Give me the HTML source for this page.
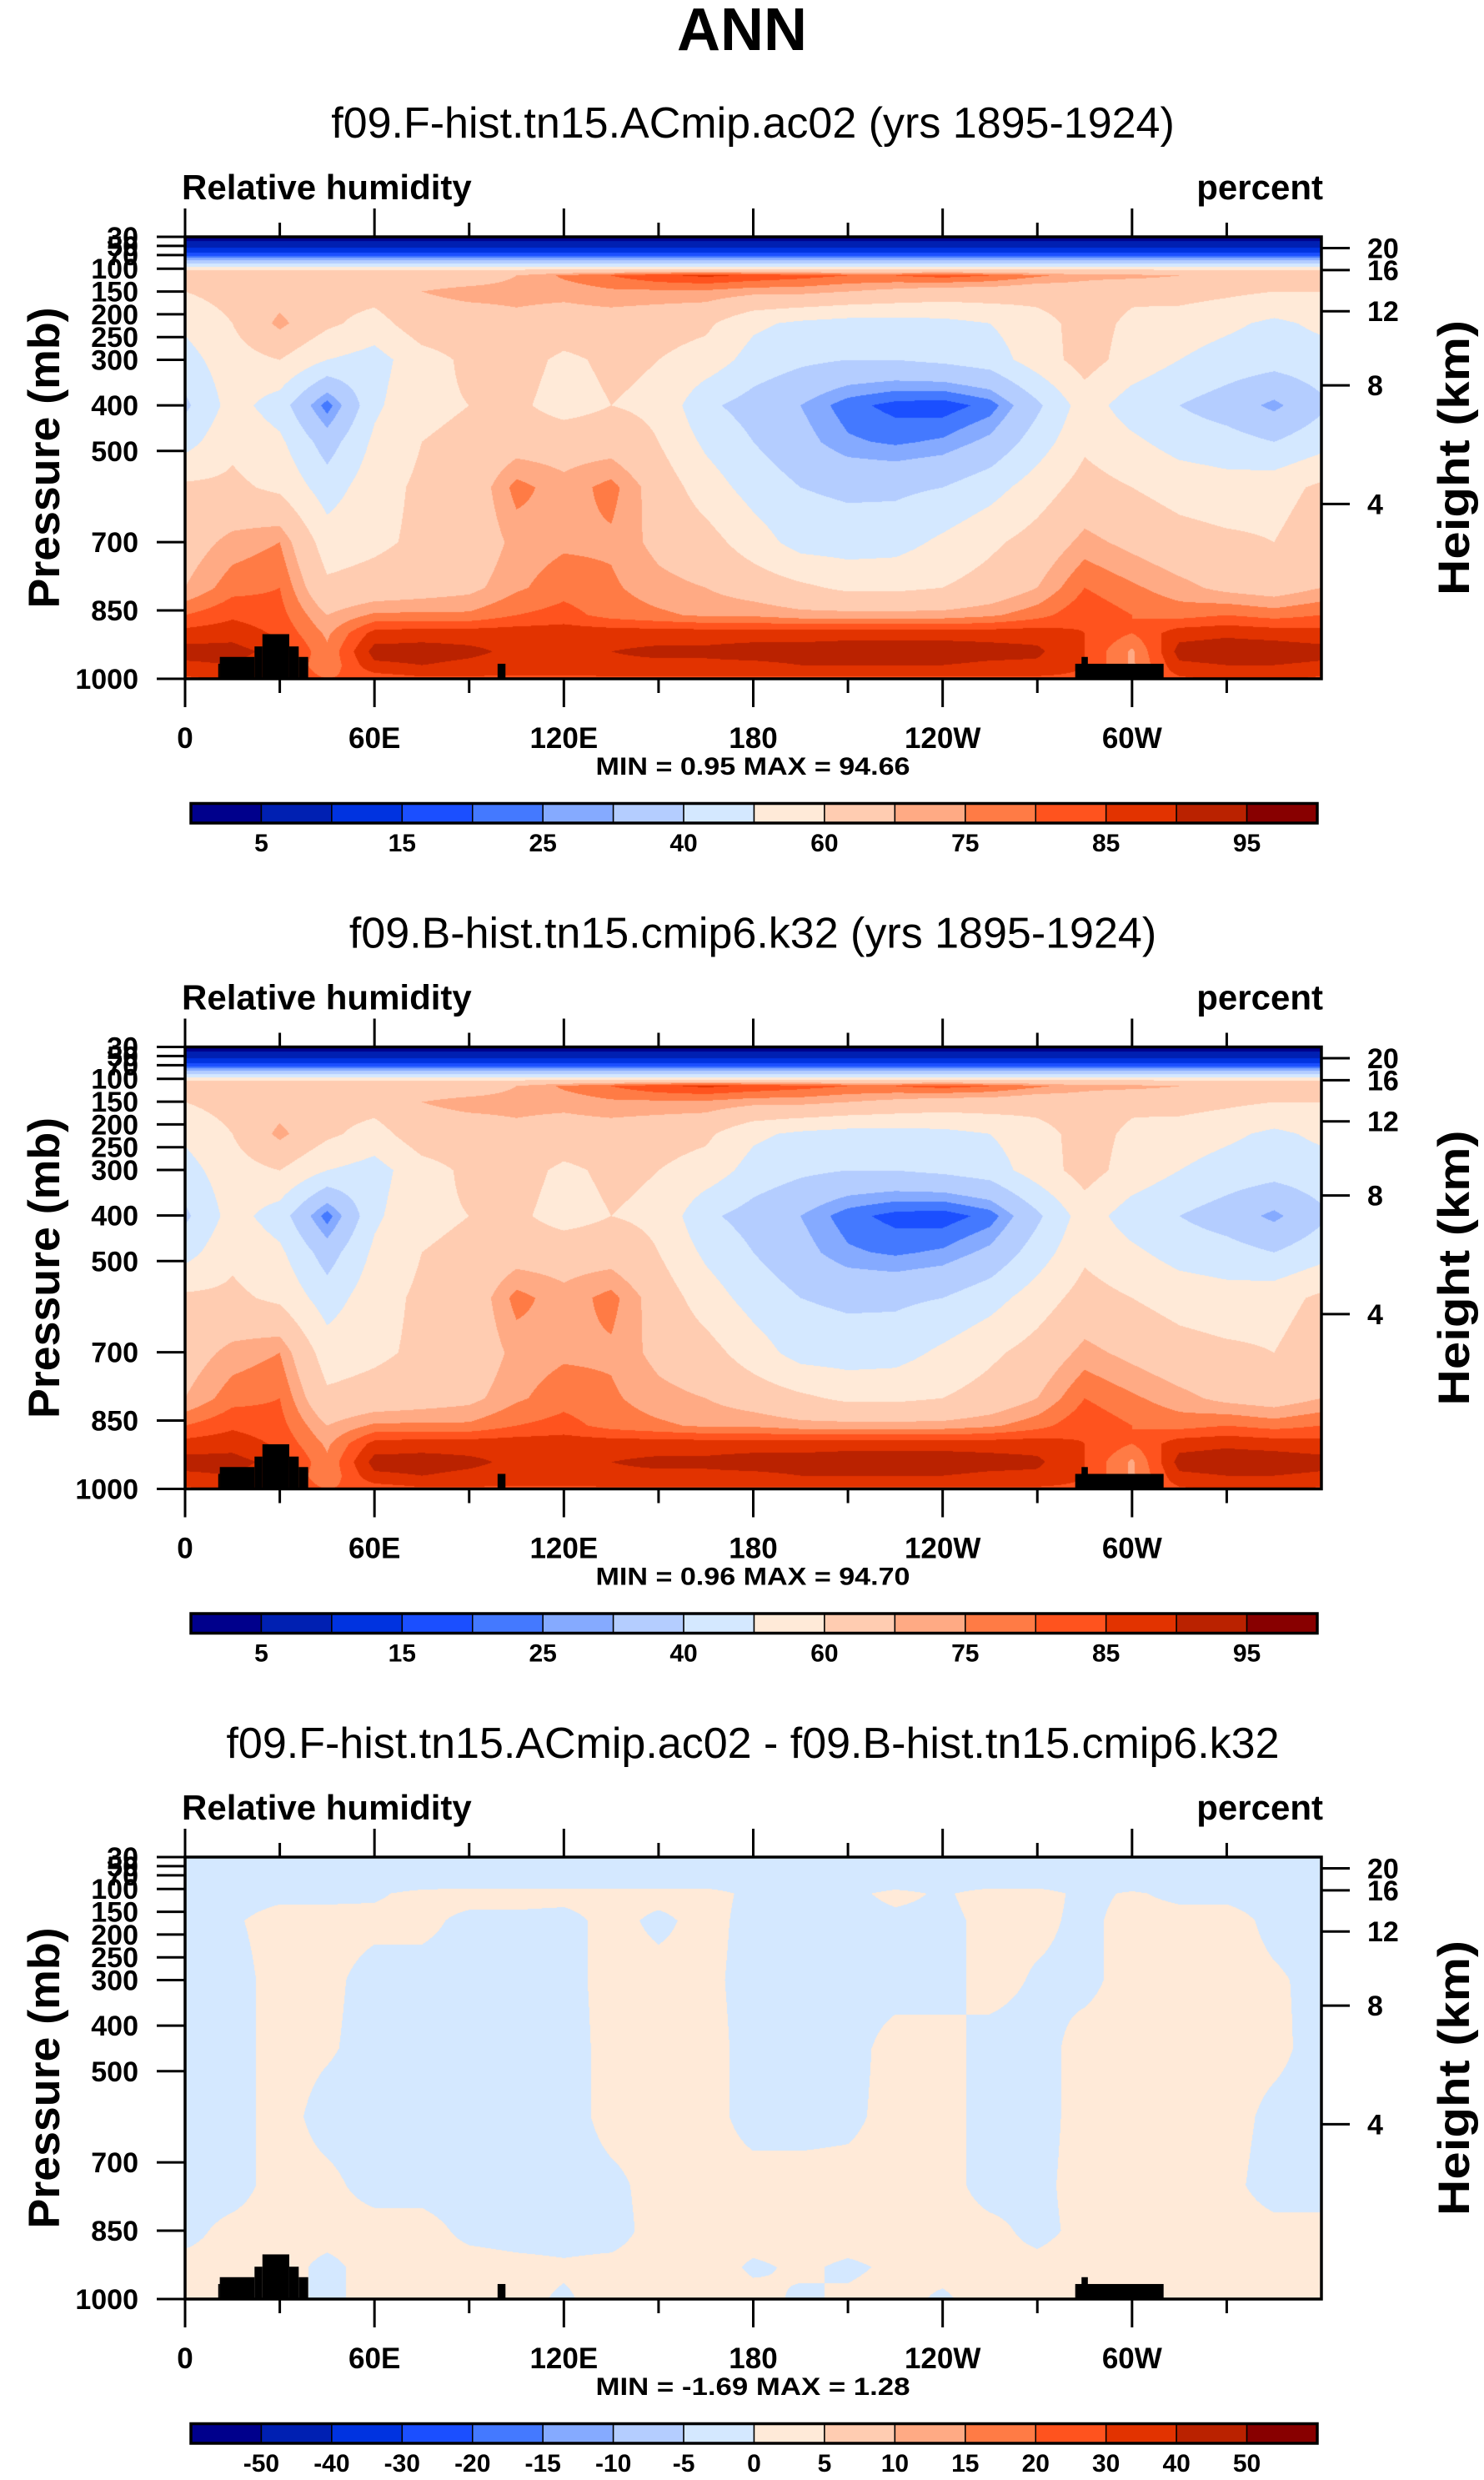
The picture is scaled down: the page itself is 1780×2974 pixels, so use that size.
<!DOCTYPE html>
<html><head><meta charset="utf-8">
<style>
html,body{margin:0;padding:0;background:#fff;}
#wrap{position:relative;width:1780px;height:2974px;overflow:hidden;}
canvas{position:absolute;}
svg{position:absolute;left:0;top:0;}
text{font-family:"Liberation Sans",sans-serif;}
</style></head>
<body>
<div id="wrap">
<canvas id="c0"></canvas>
<canvas id="c1"></canvas>
<canvas id="c2"></canvas>
<svg id="svg" width="1780" height="2974" xmlns="http://www.w3.org/2000/svg">
<text x="890" y="60" text-anchor="middle" font-size="72" font-weight="bold">ANN</text>
</svg>
</div>
<script>
// ---------- data ----------
const lonGrid = [0,15,30,45,60,75,90,105,120,135,150,165,180,195,210,225,240,255,270,285,300,315,330,345,360];
const rhLevels = [30,50,70,90,100,115,150,220,300,400,480,580,700,800,860,900,940,970,1000];
const rhA = [
[2,2,2,2,2,2,2,2,2,2,2,2,2,2,2,2,2,2,2,2,2,2,2,2,2],
[8,8,8,8,8,8,8,8,8,8,8,8,8,8,8,8,8,8,8,8,8,8,8,8,8],
[17,17,17,17,17,17,17,17,17,17,17,17,17,17,17,17,17,17,17,17,17,17,17,17,17],
[42,42,42,42,42,42,42,42,42,42,42,42,42,42,42,42,42,42,42,42,42,42,42,42,42],
[58,58,58,58,58,58,58,58,58,58,58,58,58,58,58,58,58,58,58,58,58,58,58,58,58],
[66,70,68,66,66,66,66,70,76,80,84,86,84,82,80,80,82,80,76,72,72,70,70,68,66],
[60,64,66,64,64,70,72,72,72,74,74,74,72,72,70,68,66,66,64,66,62,64,62,60,60],
[52,60,72,62,56,66,66,68,66,66,64,62,52,48,46,46,47,50,56,64,58,55,52,48,52],
[46,56,60,50,46,56,62,64,58,62,60,56,46,42,40,40,42,45,55,64,56,50,46,44,46],
[38,54,45,22,48,58,60,62,56,60,58,42,36,30,22,18,17,22,38,55,45,40,35,28,38],
[46,58,52,35,52,60,62,66,66,66,60,48,40,33,26,24,26,32,45,58,52,46,44,40,46],
[62,62,58,45,56,62,64,77,72,77,66,55,46,40,38,38,40,46,55,64,60,56,54,56,62],
[66,72,75,55,58,62,64,72,74,74,68,64,55,46,45,46,52,58,64,72,68,64,62,60,66],
[70,78,80,62,64,66,68,74,78,76,72,70,66,62,58,58,60,64,70,80,76,72,68,66,70],
[80,84,82,70,76,76,76,80,82,78,76,74,74,72,72,72,72,74,78,84,80,78,80,78,80],
[87,88,84,74,87,88,88,88,88,88,88,88,88,88,88,88,88,88,88,85,80,88,89,88,87],
[92,92,88,76,92,92,91,89,89,90,91,91,92,92,93,93,93,92,91,85,74,92,93,93,92],
[89,90,86,76,89,90,89,88,88,89,89,89,89,90,90,90,90,89,89,85,74,89,90,90,89],
[84,86,84,80,82,84,84,84,84,84,84,84,84,84,84,84,84,84,84,84,80,84,86,86,84]
];
const rhB = [
[2,2,2,2,2,2,2,2,2,2,2,2,2,2,2,2,2,2,2,2,2,2,2,2,2],
[8,8,8,8,8,8,8,8,8,8,8,8,8,8,8,8,8,8,8,8,8,8,8,8,8],
[17,17,17,17,17,17,17,17,17,17,17,17,17,17,17,17,17,17,17,17,17,17,17,17,17],
[42,42,42,42,42,42,42,42,42,42,42,42,42,42,42,42,42,42,42,42,42,42,42,42,42],
[58,58,58,58,58,58,58,58,58,58,58,58,58,58,58,58,58,58,58,58,58,58,58,58,58],
[66,70,68,66,66,66,66,70,76,80,84,86,84,82,80,80,82,80,76,72,72,70,70,68,66],
[60,64,66,64,64,70,72,72,72,74,74,74,72,72,70,68,66,66,64,66,62,64,62,60,60],
[52,60,72,62,56,66,66,68,66,66,64,62,52,48,46,46,47,50,56,64,58,55,52,48,52],
[46,56,60,50,46,56,62,64,58,62,60,56,46,42,40,40,42,45,55,64,56,50,46,44,46],
[38,54,45,22,48,58,60,62,56,60,58,42,36,30,22,18,17,22,38,55,45,40,35,28,38],
[46,58,52,35,52,60,62,66,66,66,60,48,40,33,26,24,26,32,45,58,52,46,44,40,46],
[62,62,58,45,56,62,64,77,72,77,66,55,46,40,38,38,40,46,55,64,60,56,54,56,62],
[66,72,75,55,58,62,64,72,74,74,68,64,55,46,45,46,52,58,64,72,68,64,62,60,66],
[70,78,80,62,64,66,68,74,78,76,72,70,66,62,58,58,60,64,70,80,76,72,68,66,70],
[80,84,82,70,76,76,76,80,82,78,76,74,74,72,72,72,72,74,78,84,80,78,80,78,80],
[87,88,84,74,87,88,88,88,88,88,88,88,88,88,88,88,88,88,88,85,80,88,89,88,87],
[92,92,88,76,92,92,91,89,89,90,91,91,92,92,93,93,93,92,91,85,74,92,93,93,92],
[89,90,86,76,89,90,89,88,88,89,89,89,89,90,90,90,90,89,89,85,74,89,90,90,89],
[84,86,84,80,82,84,84,84,84,84,84,84,84,84,84,84,84,84,84,84,80,84,86,86,84]
];
const diffLevels = [30,80,110,170,300,450,600,750,850,930,1000];
const diffVals = [
[-1,-1,-1,-1,-1,-1,-1,-1,-1,-1,-1,-1,-1,-1,-1,-1,-1,-1,-1,-1,-1,-1,-1,-1,-1],
[-.5,-.5,-.5,-.5,-.5,-.5,-.5,-.5,-.5,-.5,-.5,-.5,-.5,-.5,-.5,-.5,-.5,-.5,-.5,-.5,-.5,-.5,-.5,-.5,-.5],
[-.3,-.3,-.2,-.2,-.1,.2,.3,.3,.3,.3,.3,.3,-.2,-.2,-.2,.2,-.1,.3,.3,-.2,.1,-.2,-.2,-.3,-.3],
[-.3,-.1,.3,.3,.2,.2,-.2,-.2,-.3,.3,-.2,.3,-.3,-.3,-.3,-.2,-.2,.2,.2,-.2,.3,.3,.3,-.2,-.3],
[-.3,-.3,.3,.2,-.3,-.3,-.3,-.3,-.3,.3,.3,.2,-.3,-.3,-.3,-.3,-.3,.3,-.1,-.2,.3,.3,.3,.1,-.2],
[-.3,-.3,.3,.1,-.3,-.4,-.4,-.4,-.4,.3,.3,.3,-.3,-.3,-.3,.3,.3,-.3,-.3,.3,.3,.3,.3,.2,-.3],
[-.3,-.3,.3,-.3,-.4,-.4,-.4,-.4,-.4,.3,.3,.3,-.3,-.3,-.2,.3,.3,-.3,-.3,.3,.3,.3,.3,-.2,-.3],
[-.3,-.3,.3,.2,-.3,-.3,-.4,-.4,-.4,-.2,.3,.3,.3,.3,.3,.3,.3,-.3,-.2,.3,.3,.3,.2,-.3,-.3],
[-.2,.2,.3,.3,.3,.3,-.2,-.3,-.3,-.3,.3,.3,.3,.3,.3,.3,.3,.2,-.2,.2,.3,.3,.3,.2,.2],
[.2,.2,.3,-.2,.3,.3,.3,.2,.1,.2,.3,.3,-.1,.1,-.1,.1,.2,.2,.2,.3,.3,.3,.3,.3,.3],
[.3,.3,.3,-.2,.3,.3,.2,.2,-.1,.3,.3,.3,.2,-.1,.1,.2,-.1,.3,.2,.3,.3,.3,.3,.3,.3]
];
const rhBounds = [5,10,15,20,25,30,40,50,60,70,75,80,85,90,95];
const rhLabels = ["5","15","25","40","60","75","85","95"];
const diffBounds = [-50,-40,-30,-20,-15,-10,-5,0,5,10,15,20,30,40,50];
const diffLabels = ["-50","-40","-30","-20","-15","-10","-5","0","5","10","15","20","30","40","50"];
const palette = ["#00008C","#0020B2","#0033E0","#1B4FFF","#4479FF","#85AAFF","#B4CDFF","#D4E8FF","#FFEAD8","#FFCCB1","#FFAA84","#FF7B45","#FF531E","#E23300","#BA2200","#880000"];
const topoLon0 = [10.5,11,22,24.5,33,36,99,282,284];
const topoLon1 = [11,22,24.5,33,36,39,101.5,310,286];
const topoP = [967,952,929,902,929,952,967,967,952];
const pressTicks = [30,50,70,100,150,200,250,300,400,500,700,850,1000];
const heightTicks = [20,16,12,8,4];
const lonMajor = [0,60,120,180,240,300];
const lonMajorLabels = ["0","60E","120E","180","120W","60W"];
const lonMinor = [30,90,150,210,270,330];
const subtitles = ["f09.F-hist.tn15.ACmip.ac02 (yrs 1895-1924)","f09.B-hist.tn15.cmip6.k32 (yrs 1895-1924)","f09.F-hist.tn15.ACmip.ac02 - f09.B-hist.tn15.cmip6.k32"];
const minMax = ["MIN =  0.95  MAX =  94.66","MIN =  0.96  MAX =  94.70","MIN =  -1.69  MAX =  1.28"];

// ---------- layout ----------
const PL=222, PR=1585, PT0=284, PB0=814, DY=971.5;
const CBL=229, CBR=1580;
const svg=document.getElementById('svg');
const NS="http://www.w3.org/2000/svg";
function xOf(lon){return PL+(lon/360)*(PR-PL);}
function yOf(p,k){const t=PT0+k*DY, b=PB0+k*DY; return b-(1000-p)/970*(b-t);}
function hToP(h){const m=h*1000; if(m<=11000) return 1013.25*Math.pow(1-2.25577e-5*m,5.25588); return 226.32*Math.exp(-(m-11000)/6341.6);}
function mk(tag,attrs,parent){const e=document.createElementNS(NS,tag);for(const k in attrs)e.setAttribute(k,attrs[k]);(parent||svg).appendChild(e);return e;}
function idx(arr,v){let i=0;while(i<arr.length-2&&v>arr[i+1])i++;return i;}
function interp(grid,levels,lon,p){
  const i=Math.min(Math.floor(lon/15),lonGrid.length-2);
  const fx=(lon-lonGrid[i])/15;
  const j=idx(levels,p);
  const fy=Math.max(0,Math.min(1,(p-levels[j])/(levels[j+1]-levels[j])));
  const a=grid[j][i]*(1-fx)+grid[j][i+1]*fx;
  const b=grid[j+1][i]*(1-fx)+grid[j+1][i+1]*fx;
  return a*(1-fy)+b*fy;
}
function binOf(v,bounds){let k=0;while(k<bounds.length&&v>=bounds[k])k++;return k;}
function hexRgb(h){return [parseInt(h.substr(1,2),16),parseInt(h.substr(3,2),16),parseInt(h.substr(5,2),16)];}
const palRgb=palette.map(hexRgb);

function drawField(k,grid,levels,bounds){
  const cv=document.getElementById('c'+k);
  const t=Math.round(PT0+k*DY), b=Math.round(PB0+k*DY);
  const W=PR-PL, H=b-t;
  cv.width=W;cv.height=H;cv.style.left=PL+'px';cv.style.top=t+'px';
  const ctx=cv.getContext('2d');const img=ctx.createImageData(W,H);
  for(let y=0;y<H;y++){
    const p=30+(y+0.5)/H*970;
    for(let x=0;x<W;x++){
      const lon=(x+0.5)/W*360;
      const v=interp(grid,levels,lon,p);
      const c=palRgb[binOf(v,bounds)];
      const o=(y*W+x)*4;img.data[o]=c[0];img.data[o+1]=c[1];img.data[o+2]=c[2];img.data[o+3]=255;
    }
  }
  ctx.putImageData(img,0,0);
}
drawField(0,rhA,rhLevels,rhBounds);
drawField(1,rhB,rhLevels,rhBounds);
drawField(2,diffVals,diffLevels,diffBounds);

for(let k=0;k<3;k++){
  const t=PT0+k*DY, b=PB0+k*DY, oy=k*DY;
  const g=mk('g',{});
  
  
  const st=mk('text',{x:903,y:165+oy,'text-anchor':'middle','font-size':52},g);
  st.textContent=subtitles[k];
  
  
  const lt=mk('text',{x:218,y:239+oy,'font-size':42,'font-weight':'bold'},g);
  lt.textContent='Relative humidity';
  
  
  const ut=mk('text',{x:1587,y:239+oy,'font-size':42,'font-weight':'bold','text-anchor':'end'},g);
  ut.textContent='percent';
  
  
  for(let i=0;i<topoP.length;i++){
    const r=mk('rect',{x:xOf(topoLon0[i]),y:yOf(topoP[i],k),width:xOf(topoLon1[i])-xOf(topoLon0[i]),height:b-yOf(topoP[i],k),fill:'#000'},g);
    
    
  }
  const fr=mk('rect',{x:PL,y:t,width:PR-PL,height:b-t,fill:'none',stroke:'#000','stroke-width':3.5},g);
  
  
  lonMajor.forEach((lon,i)=>{
    const x=xOf(lon);
    const l1=mk('line',{x1:x,x2:x,y1:t,y2:t-34,stroke:'#000','stroke-width':3},g);
    
    
    const l2=mk('line',{x1:x,x2:x,y1:b,y2:b+34,stroke:'#000','stroke-width':3},g);
    
    
    const tx=mk('text',{x:x,y:897+oy,'text-anchor':'middle','font-size':35,'font-weight':'bold'},g);
    tx.textContent=lonMajorLabels[i];
    
    
  });
  lonMinor.forEach(lon=>{
    const x=xOf(lon);
    const l1=mk('line',{x1:x,x2:x,y1:t,y2:t-17,stroke:'#000','stroke-width':3},g);
    
    
    const l2=mk('line',{x1:x,x2:x,y1:b,y2:b+17,stroke:'#000','stroke-width':3},g);
    
    
  });
  pressTicks.forEach(p=>{
    const y=yOf(p,k);
    const l=mk('line',{x1:PL,x2:PL-34,y1:y,y2:y,stroke:'#000','stroke-width':3},g);
    
    
    const tx=mk('text',{x:166,y:y+12,'text-anchor':'end','font-size':34,'font-weight':'bold'},g);
    tx.textContent=String(p);
    
    
  });
  heightTicks.forEach(h=>{
    const y=yOf(hToP(h),k);
    const l=mk('line',{x1:PR,x2:PR+34,y1:y,y2:y,stroke:'#000','stroke-width':3},g);
    
    
    const tx=mk('text',{x:1640,y:y+12,'font-size':34,'font-weight':'bold'},g);
    tx.textContent=String(h);
    
    
  });
  const cy=(t+b)/2;
  const yl=mk('text',{x:0,y:0,'text-anchor':'middle','font-size':53,'font-weight':'bold',transform:`translate(71,${cy}) rotate(-90)`,textLength:361,lengthAdjust:'spacingAndGlyphs'},g);
  yl.textContent='Pressure (mb)';
  
  
  const hl=mk('text',{x:0,y:0,'text-anchor':'middle','font-size':53,'font-weight':'bold',transform:`translate(1762,${cy}) rotate(-90)`,textLength:330,lengthAdjust:'spacingAndGlyphs'},g);
  hl.textContent='Height (km)';
  
  
  const mm=mk('text',{x:903,y:929+oy,'text-anchor':'middle','font-size':30,'font-weight':'bold',textLength:377,lengthAdjust:'spacingAndGlyphs'},g);
  mm.textContent=minMax[k];
  
  
  const cbT=963.5+oy, cbB=987+oy, bw=(CBR-CBL)/16;
  for(let i=0;i<16;i++){
    const r=mk('rect',{x:CBL+i*bw,y:cbT,width:bw,height:cbB-cbT,fill:palette[i],stroke:'#000','stroke-width':1.5},g);
    
    
  }
  const cf=mk('rect',{x:CBL,y:cbT,width:CBR-CBL,height:cbB-cbT,fill:'none',stroke:'#000','stroke-width':3.5},g);
  
  
  const labs=k<2?rhLabels:diffLabels;
  labs.forEach((s,i)=>{
    const bi=k<2?(1+2*i):(1+i);
    const tx=mk('text',{x:CBL+bi*bw,y:1021+oy,'text-anchor':'middle','font-size':30,'font-weight':'bold'},g);
    tx.textContent=s;
    
    
  });
}
</script>
</body></html>
